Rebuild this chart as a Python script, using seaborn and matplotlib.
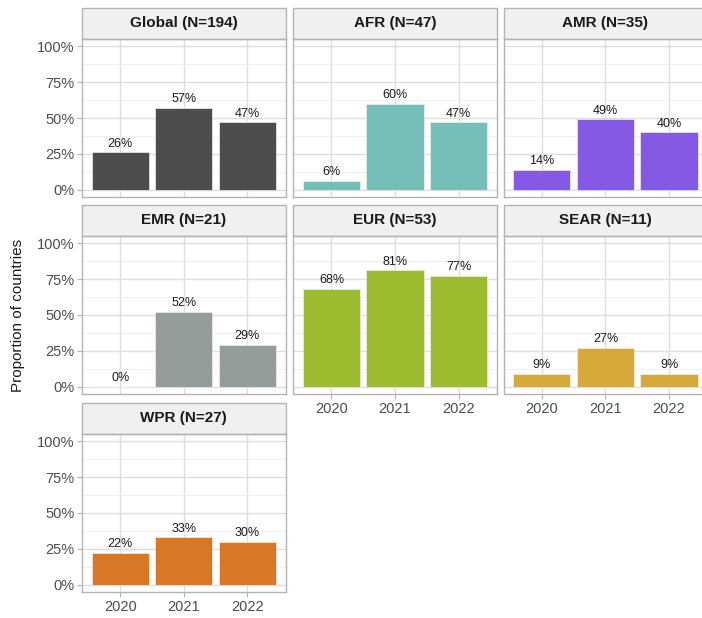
import numpy as np
import pandas as pd
import seaborn as sns
import matplotlib.pyplot as plt
from matplotlib.patches import Rectangle

# 数据
years = ['2020', '2021', '2022']
regions = ['Global', 'AFR', 'AMR', 'EMR', 'EUR', 'SEAR', 'WPR']
n_countries = [194, 47, 35, 21, 53, 11, 27]
global_pct = [26, 57, 47]
afr_pct = [6, 60, 47]
amr_pct = [14, 49, 40]
emr_pct = [0, 52, 29]
eur_pct = [68, 81, 77]
sear_pct = [9, 27, 9]
wpr_pct = [22, 33, 30]
values = [global_pct, afr_pct, amr_pct, emr_pct, eur_pct, sear_pct, wpr_pct]
colors = ['#4d4d4d', '#76bfb8', '#8459e3', '#949c9c', '#9dbb2f', '#d5aa38', '#da7726']

sns.set_theme(style='whitegrid')
plt.rcParams['font.family'] = ['Liberation Sans', 'DejaVu Sans']

W, H = 702, 618
fig = plt.figure(figsize=(W / 100, H / 100), dpi=100)

# 面板位置 (像素)
col_left = [82, 293.3, 503.7]
panel_w = 203.5
row_top = [39, 236, 434]
panel_h = 158
strip_h = 31
bottom_panels = ['EUR', 'SEAR', 'WPR']

for i, (reg, n, vals, c) in enumerate(zip(regions, n_countries, values, colors)):
    r, k = divmod(i, 3)
    left = col_left[k] / W
    bottom = 1 - (row_top[r] + panel_h) / H
    ax = fig.add_axes([left, bottom, panel_w / W, panel_h / H])

    df = pd.DataFrame({'year': years, 'value': np.array(vals) / 100})
    sns.barplot(data=df, x='year', y='value', color=c, ax=ax, width=0.9,
                saturation=1, edgecolor='#eeeeee', linewidth=0.5)
    ax.bar_label(ax.containers[0], labels=[f'{v}%' for v in vals],
                 padding=2, fontsize=9, color='#1a1a1a')

    ax.set_xlim(-0.6, 2.6)
    ax.set_ylim(-0.05, 1.05)
    ax.set_yticks([0, 0.25, 0.5, 0.75, 1.0])
    ax.set_yticks([0.125, 0.375, 0.625, 0.875], minor=True)
    ax.set_yticklabels(['0%', '25%', '50%', '75%', '100%'])
    ax.set_axisbelow(True)
    ax.grid(which='major', color='#dedede', linewidth=1.0)
    ax.grid(which='minor', axis='y', color='#ececec', linewidth=0.6)
    for s in ax.spines.values():
        s.set_visible(True)
        s.set_color('#b3b3b3')
        s.set_linewidth(1.0)
    ax.tick_params(which='major', length=3.5, width=0.8, color='#b3b3b3',
                   labelcolor='#4d4d4d', labelsize=10.5, pad=2)
    ax.tick_params(which='minor', length=0)
    ax.set_xlabel('')
    ax.set_ylabel('')

    if k != 0:
        ax.tick_params(axis='y', left=False, labelleft=False)
    else:
        ax.tick_params(axis='y', left=True)
    if reg not in bottom_panels:
        ax.tick_params(axis='x', bottom=False, labelbottom=False)
    else:
        ax.tick_params(axis='x', bottom=True)

    # 分面标题条
    sh = strip_h / panel_h
    ax.add_patch(Rectangle((0, 1), 1, sh, transform=ax.transAxes,
                           facecolor='#f0f0f0', edgecolor='#b3b3b3',
                           linewidth=1.0, clip_on=False))
    ax.text(0.5, 1 + sh / 2, f'{reg} (N={n})', transform=ax.transAxes,
            ha='center', va='center', fontsize=11, fontweight='bold',
            color='#1a1a1a')

fig.text(18 / W, 1 - 315 / H, 'Proportion of countries', rotation=90,
         ha='center', va='center', fontsize=11, color='#1a1a1a')

plt.savefig('out.png', dpi=100)
plt.close()
